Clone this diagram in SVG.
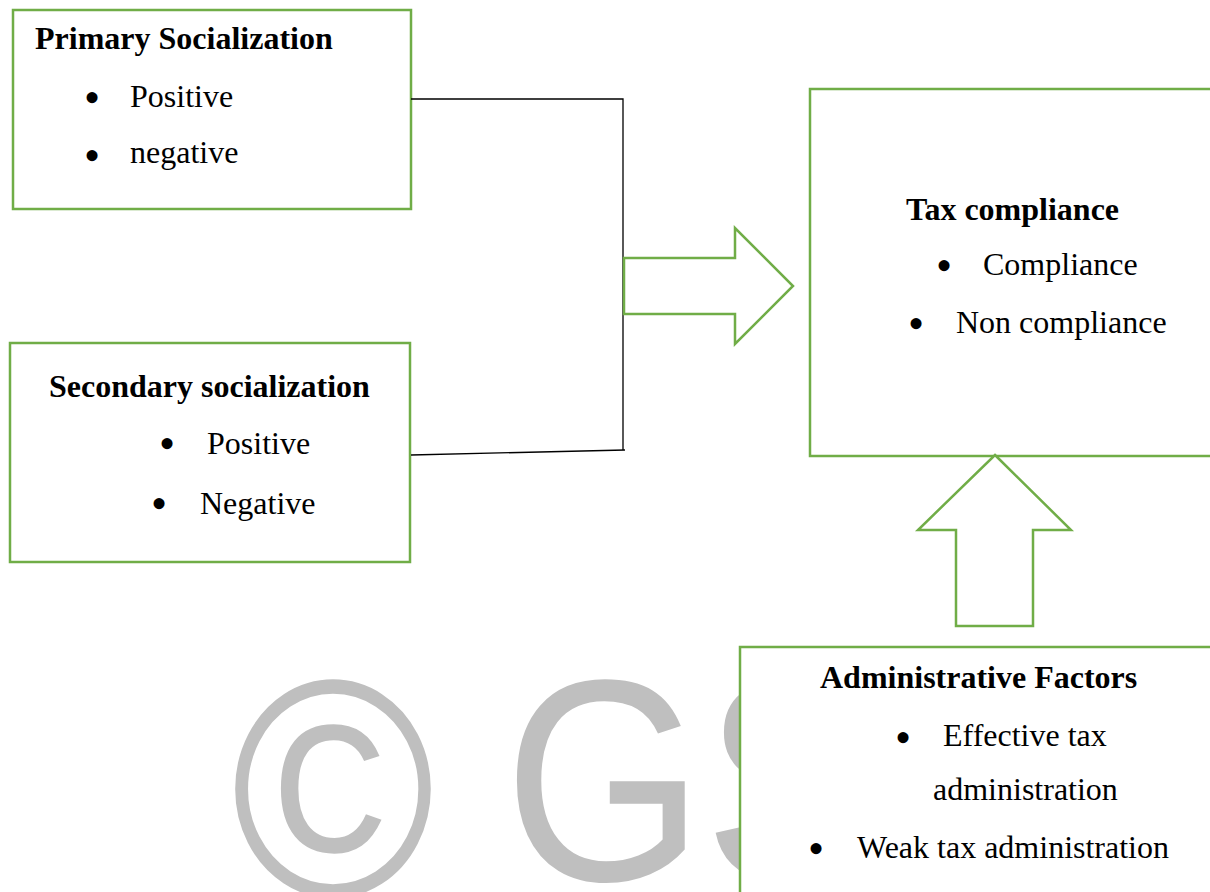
<svg xmlns="http://www.w3.org/2000/svg" width="1210" height="892" viewBox="0 0 1210 892">
<style>
.box{fill:#fff;stroke:#70ad47;stroke-width:2.5}
.arr{fill:#fff;stroke:#70ad47;stroke-width:2.5;stroke-linejoin:miter}
.ln{fill:none;stroke:#000;stroke-width:1.3}
.t{font-family:"Liberation Serif","Times New Roman",serif;font-size:32px;fill:#000}
.b{font-weight:bold}
.bul{font-family:"Liberation Serif","Times New Roman",serif;font-size:46px;fill:#000;text-anchor:middle}
.wm{font-family:"Liberation Sans",Arial,sans-serif;font-size:257px;fill:#bfbfbf}
</style>
<rect width="1210" height="892" fill="#fff"/>
<g id="watermark" transform="scale(1,1.12)">
<text class="wm" x="231" y="800" style="font-size:277px">©</text>
<text class="wm" x="504" y="786">G</text>
<text class="wm" x="704" y="786">S</text>
</g>
<g id="primary">
<rect class="box" x="13" y="10" width="398" height="199"/>
<text class="t b" x="35" y="49">Primary Socialization</text>
<text class="bul" x="92" y="113">•</text>
<text class="t" x="130" y="107">Positive</text>
<text class="bul" x="92" y="171">•</text>
<text class="t" x="130" y="163">negative</text>
</g>
<g id="secondary">
<rect class="box" x="10" y="343" width="400" height="219"/>
<text class="t b" x="49" y="397">Secondary socialization</text>
<text class="bul" x="167" y="459">•</text>
<text class="t" x="207" y="454">Positive</text>
<text class="bul" x="159" y="519">•</text>
<text class="t" x="200" y="514">Negative</text>
</g>
<g id="tax">
<rect class="box" x="810" y="89" width="410" height="367"/>
<text class="t b" x="906" y="220">Tax compliance</text>
<text class="bul" x="944" y="281">•</text>
<text class="t" x="983" y="275">Compliance</text>
<text class="bul" x="916" y="339">•</text>
<text class="t" x="956" y="333">Non compliance</text>
</g>
<g id="admin">
<rect class="box" x="740" y="647" width="480" height="260"/>
<text class="t b" x="820" y="688">Administrative Factors</text>
<text class="bul" x="903" y="753">•</text>
<text class="t" x="943" y="746">Effective tax</text>
<text class="t" x="933" y="800">administration</text>
<text class="bul" x="816" y="864">•</text>
<text class="t" x="857" y="858">Weak tax administration</text>
</g>
<g id="connectors">
<polyline class="ln" points="411,99 623,99 623,450"/>
<line class="ln" x1="411" y1="455" x2="625" y2="450"/>
<polygon class="arr" points="624,258 735,258 735,228 793,286 735,344 735,314 624,314"/>
<polygon class="arr" points="995,455 1071,530 1033,530 1033,626 956,626 956,530 918,530"/>
</g>
</svg>
